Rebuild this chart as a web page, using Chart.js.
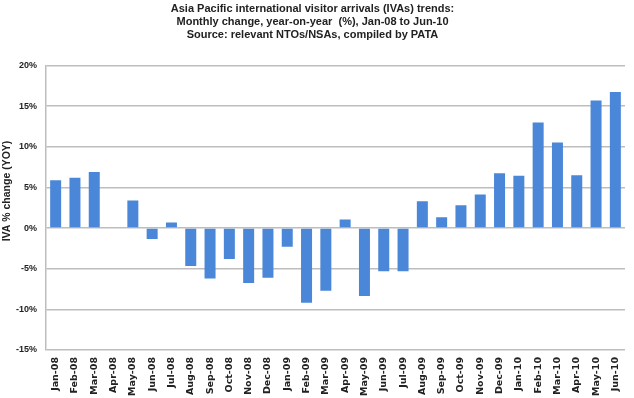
<!DOCTYPE html>
<html>
<head>
<meta charset="utf-8">
<script src="https://cdn.jsdelivr.net/npm/chart.js@4"></script>
<style>
  html, body { margin: 0; padding: 0; background: #fff; }
  #wrap { width: 634px; height: 398px; }
</style>
</head>
<body>
<div id="wrap"><canvas id="myChart" width="634" height="398"></canvas></div>
<script>
const months = ['Jan-08', 'Feb-08', 'Mar-08', 'Apr-08', 'May-08', 'Jun-08', 'Jul-08', 'Aug-08', 'Sep-08', 'Oct-08',
    'Nov-08', 'Dec-08', 'Jan-09', 'Feb-09', 'Mar-09', 'Apr-09', 'May-09', 'Jun-09', 'Jul-09', 'Aug-09',
    'Sep-09', 'Oct-09', 'Nov-09', 'Dec-09', 'Jan-10', 'Feb-10', 'Mar-10', 'Apr-10', 'May-10', 'Jun-10'];
const yoyChange = [5.9, 6.2, 6.9, null, 3.4, -1.35, 0.7, -4.65, -6.2, -3.8,
    -6.75, -6.1, -2.3, -9.2, -7.7, 1.05, -8.35, -5.3, -5.3, 3.3,
    1.35, 2.8, 4.15, 6.75, 6.45, 13.0, 10.55, 6.5, 15.7, 16.75];
const titleLines = [
    'Asia Pacific international visitor arrivals (IVAs) trends:',
    'Monthly change, year-on-year  (%), Jan-08 to Jun-10',
    'Source: relevant NTOs/NSAs, compiled by PATA'
];
const yTitle = 'IVA % change (YOY)';
const yMin = -15;
const yMax = 20;
const yStep = 5;

const fontFam = '"Liberation Sans", Arial, sans-serif';

// y axis title drawn by hand so it can sit a bit above the middle, like the original
const yTitlePlugin = {
    id: 'yTitle',
    afterDraw: function(chart) {
        const c = chart.ctx;
        c.save();
        c.translate(7, 191);
        c.rotate(-Math.PI / 2);
        c.font = 'bold 10.5px ' + fontFam;
        c.fillStyle = '#222';
        c.textAlign = 'center';
        c.textBaseline = 'middle';
        c.fillText(yTitle, 0, 0);
        c.restore();
    }
};

let ctx = document.getElementById('myChart').getContext('2d');
var myChart = new Chart(ctx, {         //eslint-disable-line
    type: 'bar',
    data: {
        labels: months,
        datasets: [{
            label: yTitle,
            data: yoyChange,
            backgroundColor: '#4a87d8',
            borderWidth: 0,
            barPercentage: 0.57,
            categoryPercentage: 1.0
        }]
    },
    plugins: [yTitlePlugin],
    options: {
        responsive: false,
        animation: false,
        layout: {
            padding: { left: 0, right: 9, top: 0, bottom: 0 }
        },
        plugins: {
            legend: { display: false },
            tooltip: { enabled: false },
            title: {
                display: true,
                text: titleLines,
                color: '#222',
                font: { family: fontFam, size: 11, weight: 'bold' },
                lineHeight: 1.07,
                padding: { top: 2, bottom: 24 }
            }
        },
        scales: {
            x: {
                grid: { display: false, drawTicks: false },
                border: { display: false },
                ticks: {
                    autoSkip: false,
                    maxRotation: 90,
                    minRotation: 90,
                    padding: 7,
                    color: '#222',
                    font: { family: '"DejaVu Sans", sans-serif', size: 9.5, weight: 'bold' }
                },
                afterFit: function(scale) { scale.height = 48; }
            },
            y: {
                min: yMin,
                max: yMax,
                ticks: {
                    stepSize: yStep,
                    padding: 9,
                    color: '#222',
                    font: { family: fontFam, size: 9, weight: 'bold' },
                    callback: function(v) { return v + '%'; }
                },
                grid: { color: '#bdbdbd', lineWidth: 1.5, drawTicks: false },
                border: { display: true, color: '#bdbdbd', width: 1.5 },
                afterFit: function(scale) { scale.width = 46; }
            }
        }
    }
});
</script>
</body>
</html>
